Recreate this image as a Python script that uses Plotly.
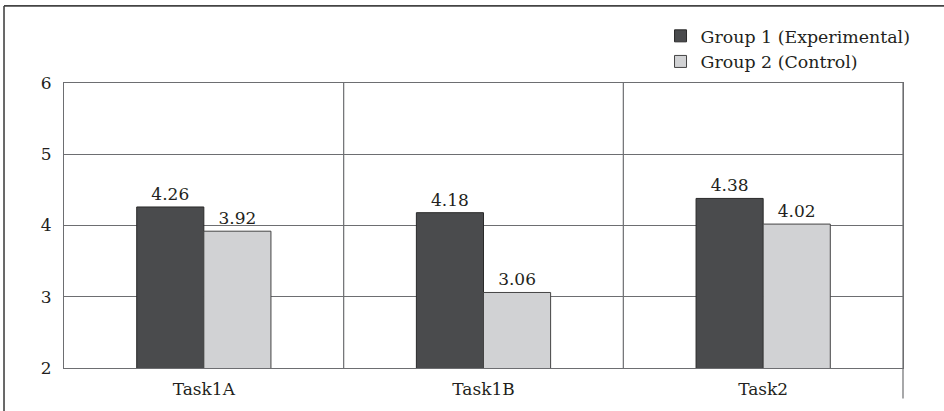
import plotly.graph_objects as go

# Mean scores per task for the two groups
tasks = ["Task1A", "Task1B", "Task2"]
group1 = [4.26, 4.18, 4.38]
group2 = [3.92, 3.06, 4.02]
series_names = ["Group 1 (Experimental)", "Group 2 (Control)"]
y_ticks = [2, 3, 4, 5, 6]

FONT = "DejaVu Serif"
FS = 17
INK = "#231f20"
GRID = "#6d6e71"

fig = go.Figure()
fig.add_trace(go.Bar(
    x=tasks, y=group1, name=series_names[0],
    marker=dict(color="#4a4b4d", line=dict(color="#2a2a2a", width=1)),
    text=[f"{v:.2f}" for v in group1], textposition="outside",
    textfont=dict(family=FONT, size=FS, color=INK),
))
fig.add_trace(go.Bar(
    x=tasks, y=group2, name=series_names[1],
    marker=dict(color="#d1d2d4", line=dict(color="#444444", width=1)),
    text=[f"{v:.2f}" for v in group2], textposition="outside",
    textfont=dict(family=FONT, size=FS, color=INK),
))

# frame lines: category separators, extended right edge, outer border
line_style = dict(color=GRID, width=1.2)
shapes = []
for xb in [0.5, 1.5]:
    shapes.append(dict(type="line", xref="x", yref="paper", x0=xb, x1=xb, y0=0, y1=1, line=line_style))
shapes.append(dict(type="line", xref="paper", yref="paper", x0=1, x1=1, y0=-0.107, y1=1, line=line_style))
shapes.append(dict(type="line", xref="paper", yref="paper", x0=-0.0715, x1=-0.0715, y0=-0.16, y1=1.2705,
                   line=dict(color="#444444", width=1.6)))
shapes.append(dict(type="line", xref="paper", yref="paper", x0=-0.0715, x1=1.06, y0=1.2705, y1=1.2705,
                   line=dict(color="#444444", width=1.6)))

fig.update_layout(
    width=944, height=411,
    margin=dict(l=64, r=41, t=83, b=43),
    paper_bgcolor="white", plot_bgcolor="white",
    barmode="group", bargap=0.52, bargroupgap=0,
    font=dict(family=FONT, size=FS, color=INK),
    showlegend=True,
    legend=dict(x=0.711, y=1.228, xanchor="left", yanchor="top",
                font=dict(family=FONT, size=17.4, color=INK),
                bgcolor="rgba(0,0,0,0)", tracegroupgap=0, itemwidth=30),
    shapes=shapes,
    xaxis=dict(showgrid=False, showline=True, linecolor=GRID, linewidth=1.2, mirror=True,
               ticks="", ticklabelstandoff=5, tickfont=dict(family=FONT, size=FS, color=INK),
               range=[-0.5, 2.5]),
    yaxis=dict(range=[2, 6], tickvals=y_ticks, showgrid=True, gridcolor=GRID, gridwidth=1.2,
               showline=True, linecolor=GRID, linewidth=1.2, mirror=True, zeroline=False,
               ticks="", ticklabelstandoff=8, tickfont=dict(family=FONT, size=FS, color=INK)),
)

fig.write_html("out.html")
